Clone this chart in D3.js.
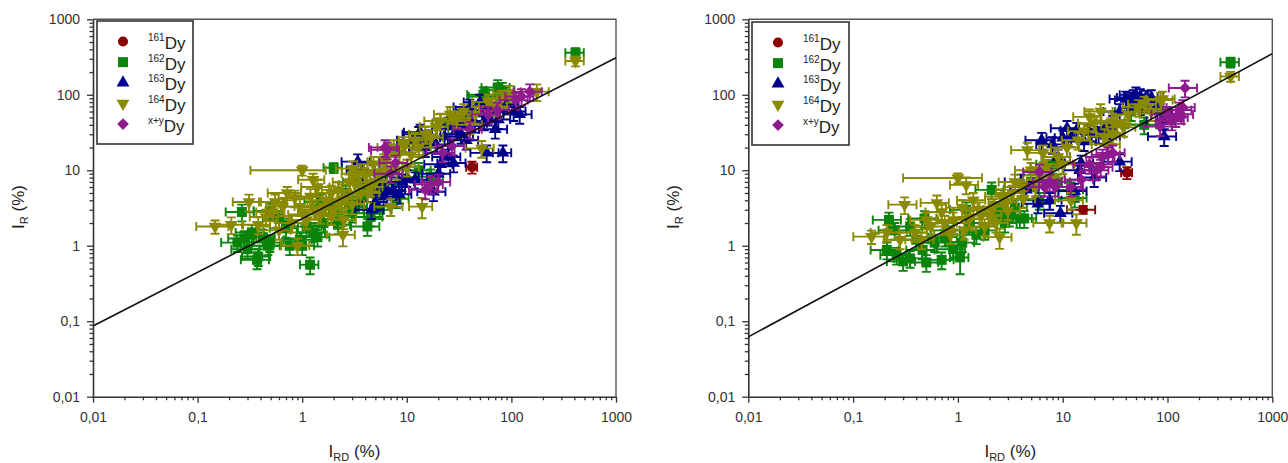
<!DOCTYPE html>
<html><head><meta charset="utf-8">
<script src="https://cdn.jsdelivr.net/npm/d3@7/dist/d3.min.js"></script>
<style>body{margin:0;background:#fff;} svg{display:block;font-family:"Liberation Sans",Arial,sans-serif;}</style>
</head><body><svg id="c" width="1288" height="463"></svg>
<script>
// ---------- series meta ----------
const seriesNames = ["161", "162", "163", "164", "x+y"];
const seriesColors = ["#8b0000", "#0a840a", "#00008b", "#8a8a00", "#8e1a8e"];
const seriesSymbols = ["circle", "square", "triangle", "triangleDown", "diamond"];
const tickValues = [0.01, 0.1, 1, 10, 100, 1000];
const tickLabels = ["0,01", "0,1", "1", "10", "100", "1000"];

// ---------- data: [I_RD, I_R, relErrX, relErrY] (errors optional) ----------
const left161 = [[42, 11, 0.12, 0.18]];
const left162 = [[0.24,1.1],[0.265,2.8],[0.28,1.25],[0.3,0.9],[0.33,1.5],[0.37,0.65],[0.38,0.72],[0.42,1.3],[0.47,1.0],[0.49,1.1],[0.49,2.9],[0.6,2.3],[0.7,1.7],[0.76,1.0],[0.95,1.2],[1.0,1.0],[1.1,1.8],[1.19,0.56,0.2,0.25],[1.27,1.5],[1.4,1.3],[1.5,3.8],[1.6,2.0],[1.8,3.4],[2.0,10.8,0.2,0.15],[2.2,1.9],[2.3,2.5],[2.6,5],[2.8,3.8],[3,2.7],[3.2,3.2],[3.5,7],[3.8,4.5],[4.2,1.8],[4.5,2.4],[5,5.8],[5.5,3.0],[6,6.5],[8,4.2],[13,10],[17,8.2],[25,40],[54,100],[56,95],[74,125],[82,115],[410,360,0.2,0.15]];
const left163 = [[3.4,13],[3.8,10],[4.6,3.0],[5,3.8],[5.5,7],[6,4.5],[6.5,5.5],[7.4,5.5],[8.5,4.8],[9,7],[10,8],[11.5,25],[12,7.5],[13,30],[13.4,32],[15,20],[16,27],[18,5.2],[19,22],[20,9],[21,12],[23,28],[25,15],[28,12.5],[28,40],[30,35],[33,30],[35,50],[37,25],[40,69],[42,63],[45,42],[50,80],[55,45],[58,17],[60,52],[65,62],[70,35],[75,47],[83,17,0.2,0.25],[90,75],[105,60],[120,55]];
const left164 = [[0.147,1.8,0.34,0.2],[0.21,1.9],[0.31,3.8],[0.38,1.9],[0.45,2.4],[0.52,2.8],[0.55,3.8],[0.6,1.6],[0.65,3.3],[0.72,5.0,0.35,0.2],[0.8,2.0],[0.85,4.3],[0.9,1.0],[0.95,3.3],[1.0,10,0.68,0.15],[1.05,2.6],[1.27,7.5,0.28,0.2],[1.1,2.2],[1.2,4.5],[1.3,3.0],[1.4,6],[1.5,2.6],[1.6,3.3],[1.7,4.0],[1.9,5],[1.9,2.5],[2.0,3.0],[2.2,5.5],[2.3,3.6],[2.45,1.4,0.3,0.3],[2.5,2.2],[2.6,4.2],[2.8,7],[3.0,3.5],[3,10.5],[3.2,6.5],[3.4,9],[3.6,4.8],[4.0,8.5],[4.2,5],[4.5,6.0],[4.8,12],[5,7],[5.5,9.5],[6,10],[6,13],[6.5,15],[7.0,3.3],[7.5,20],[8,10],[8.5,17],[9.5,22],[10,11],[11,16],[12,25],[13,20],[14,3.3,0.25,0.3],[15,30],[17,27],[19,38],[21,45],[26,55],[30,48],[35,60],[40,40],[45,55],[52,19.5],[60,80],[70,70],[80,90],[96,105],[175,110],[410,280,0.2,0.15]];
const leftXY = [[6.2,20],[6.5,18.6],[7.0,9],[7.8,12.5],[15,5.5],[17,6.5],[20,7],[22,17],[27,21],[40,35],[60,55],[73,63],[110,85],[125,95],[150,110]];
const leftFit = [[0.01, 0.0866], [1000, 310]];

const right161 = [[41, 9.3, 0.12, 0.18], [15.7, 3.0, 0.3, 0.12]];
const right162 = [[0.21,0.88],[0.22,2.2],[0.25,1.6],[0.26,0.75],[0.3,0.62],[0.35,0.68],[0.35,1.8],[0.4,1.2],[0.46,0.88],[0.48,2.3],[0.5,0.6],[0.6,1.1],[0.7,0.65],[0.75,1.3],[0.8,1.6],[0.9,0.9],[1.05,0.7,0.2,0.4],[1.1,1.1],[1.2,3],[1.3,2.0],[1.5,1.4],[1.8,1.6],[2.1,5.5],[2.5,3.0],[2.8,2.0],[3.1,2.4],[3.5,3.2],[3.9,2.3],[4.3,2.3],[5,7],[6,4],[8,12],[9,7],[12,5.5],[13,4.3],[45,60],[60,40],[400,270,0.2,0.15]];
const right163 = [[4,7],[4.5,5.5],[5.8,3.6],[6.3,25],[7.5,4.0],[8,22],[9,15],[9.5,2.7],[10,27],[11,36],[12,27],[13,5.3],[13.6,34],[14.5,10],[15,12.5],[16,24],[18,32],[20,8],[22,30],[25,35],[27,28],[30,42],[35,13],[35,60],[40,88],[45,85],[47,92],[50,100],[55,95],[58,80],[62,90],[70,92],[80,60],[85,60],[90,45],[93,28]];
const right164 = [[0.15,1.32,0.33,0.2],[0.21,1.5],[0.28,1.2],[0.31,3.5],[0.39,1.5],[0.45,1.2],[0.5,2.2],[0.55,1.8],[0.63,3.7],[0.7,2.8],[0.75,2.0],[0.85,1.4],[0.9,2.2],[1.0,7.9,0.7,0.15],[1.1,3.2],[1.15,1.6],[1.2,6.4],[1.3,2.3],[1.4,4.0],[1.6,3.0],[1.7,2.6],[1.8,1.8],[2.0,2.5],[2.2,3.3],[2.3,2.0],[2.5,1.3,0.3,0.3],[2.6,4.5],[2.8,3.8],[3,2.9],[3.3,5.0],[3.5,7],[4.0,6.0],[4.2,4.2],[4.6,18.5],[5,10],[5.5,6],[6,8.5],[6.5,17],[7,11],[7.5,2.0],[8,8],[9,15],[10,12],[11,20],[12,4],[13.5,2.0,0.25,0.3],[14,25],[16,33],[18,51],[20,42],[23,60],[25,28],[27,22],[30,30],[30,45],[33,42],[38,37],[42,55],[53,68],[60,75],[70,60],[86,85],[90,88],[400,175,0.2,0.15]];
const rightXY = [[6,9.5],[6.7,6],[7.5,7],[8.5,6],[12,6],[15,7.5],[18,12],[21,10],[23,11],[24,15],[27,16],[30,17],[85,38],[100,55],[110,45],[120,50],[130,63],[135,55],[140,68],[147,123]];
const rightFit = [[0.01, 0.062], [1000, 351]];

// ---------- drawing ----------
const svg = d3.select("#c");

function symbolPath(kind) {
  if (kind === "circle") return d3.symbol(d3.symbolCircle, 80)();
  if (kind === "square") return d3.symbol(d3.symbolSquare, 100)();
  if (kind === "triangle") return d3.symbol(d3.symbolTriangle, 72)();
  if (kind === "triangleDown") return d3.symbol(d3.symbolTriangle, 72)();
  return d3.symbol(d3.symbolSquare, 68)();
}
function symbolTransform(kind, px, py) {
  if (kind === "triangleDown") return `translate(${px},${py}) rotate(180)`;
  if (kind === "diamond") return `translate(${px},${py}) rotate(45)`;
  return `translate(${px},${py})`;
}

function drawPanel(P, seriesData, fit) {
  const g = svg.append("g");
  const x = d3.scaleLog().domain([0.01, 1000]).range([P.x0, P.x1]);
  const y = d3.scaleLog().domain([0.01, 1000]).range([P.y1, P.y0]);
  const minors = [];
  for (let e = -2; e < 3; e++) for (let m = 2; m <= 9; m++) minors.push(m * Math.pow(10, e));

  g.append("path").attr("d", `M${P.x0},${P.y0}H${P.x1}V${P.y1}`)
    .attr("fill", "none").attr("stroke", "#555").attr("stroke-width", 1.4);

  g.append("g").attr("transform", `translate(0,${P.y1})`)
    .call(d3.axisBottom(x).tickValues(minors).tickSize(3.5).tickFormat(""))
    .call(a => a.select(".domain").remove());
  g.append("g").attr("transform", `translate(${P.x0},0)`)
    .call(d3.axisLeft(y).tickValues(minors).tickSize(3.5).tickFormat(""))
    .call(a => a.select(".domain").remove());
  const xa = g.append("g").attr("transform", `translate(0,${P.y1})`)
    .call(d3.axisBottom(x).tickValues(tickValues).tickSize(6).tickSizeOuter(0).tickPadding(9)
      .tickFormat((d, i) => tickLabels[i]));
  const ya = g.append("g").attr("transform", `translate(${P.x0},0)`)
    .call(d3.axisLeft(y).tickValues(tickValues).tickSize(6).tickSizeOuter(0).tickPadding(7)
      .tickFormat((d, i) => tickLabels[i]));
  [xa, ya].forEach(a => {
    a.selectAll("text").attr("font-size", 14).attr("fill", "#333")
      .attr("font-family", "Liberation Sans, Arial, sans-serif");
    a.select(".domain").attr("stroke", "#333").attr("stroke-width", 1.6);
  });
  g.selectAll(".tick line").attr("stroke", "#333").attr("stroke-width", 1.3);

  const cap = 4.5;
  seriesData.forEach((pts, si) => {
    const col = seriesColors[si];
    const sg = g.append("g");
    pts.forEach(p => {
      const [vx, vy] = p;
      const rx = p[2] !== undefined ? p[2] : 0.3;
      const ry = p[3] !== undefined ? p[3] : 0.25;
      const px = x(vx), py = y(vy);
      const xl = x(Math.max(0.01, vx * (1 - rx))), xr = x(vx * (1 + rx));
      const yl = y(Math.max(0.01, vy * (1 - ry))), yh = y(vy * (1 + ry));
      const d = `M${xl},${py}H${xr}M${xl},${py - cap}V${py + cap}M${xr},${py - cap}V${py + cap}` +
                `M${px},${yl}V${yh}M${px - cap},${yl}H${px + cap}M${px - cap},${yh}H${px + cap}`;
      sg.append("path").attr("d", d).attr("fill", "none").attr("stroke", col).attr("stroke-width", 1.9);
      sg.append("path").attr("d", symbolPath(seriesSymbols[si]))
        .attr("transform", symbolTransform(seriesSymbols[si], px, py)).attr("fill", col);
    });
  });

  g.append("path").datum(fit)
    .attr("d", d3.line().x(d => x(d[0])).y(d => y(d[1])))
    .attr("fill", "none").attr("stroke", "#111").attr("stroke-width", 1.6);

  const L = P.legend;
  g.append("rect").attr("x", L.x).attr("y", L.y).attr("width", L.w).attr("height", L.h)
    .attr("fill", "#fff").attr("stroke", "#333").attr("stroke-width", 1.6);
  seriesNames.forEach((nm, i) => {
    const cy = L.y + 20.5 + i * 20.65;
    g.append("path").attr("d", symbolPath(seriesSymbols[i]))
      .attr("transform", symbolTransform(seriesSymbols[i], L.x + 26, cy)).attr("fill", seriesColors[i]);
    const t = g.append("text").attr("x", L.x + 51).attr("y", cy + 7.5).attr("fill", "#222");
    t.append("tspan").attr("font-size", 10).attr("dy", -8).text(nm);
    t.append("tspan").attr("font-size", 17).attr("dy", 8).text("Dy");
  });

  const cx = (P.x0 + P.x1) / 2;
  const xt = g.append("text").attr("x", cx).attr("y", 457).attr("text-anchor", "middle")
    .attr("font-size", 17).attr("fill", "#222");
  xt.append("tspan").text("I");
  xt.append("tspan").attr("font-size", 11).attr("dy", 4).text("RD");
  xt.append("tspan").attr("dy", -4).text(" (%)");
  const yt = g.append("text").attr("transform", `translate(${P.x0 - 69},207) rotate(-90)`)
    .attr("text-anchor", "middle").attr("font-size", 17).attr("fill", "#222");
  yt.append("tspan").text("I");
  yt.append("tspan").attr("font-size", 11).attr("dy", 4).text("R");
  yt.append("tspan").attr("dy", -4).text(" (%)");
}

drawPanel({x0: 93, x1: 616, y0: 19.3, y1: 396.7, legend: {x: 97, y: 21, w: 96, h: 123}},
  [left161, left162, left163, left164, leftXY], leftFit);
drawPanel({x0: 748.3, x1: 1272.3, y0: 19.3, y1: 396.7, legend: {x: 752, y: 22, w: 97, h: 123}},
  [right161, right162, right163, right164, rightXY], rightFit);
</script></body></html>
